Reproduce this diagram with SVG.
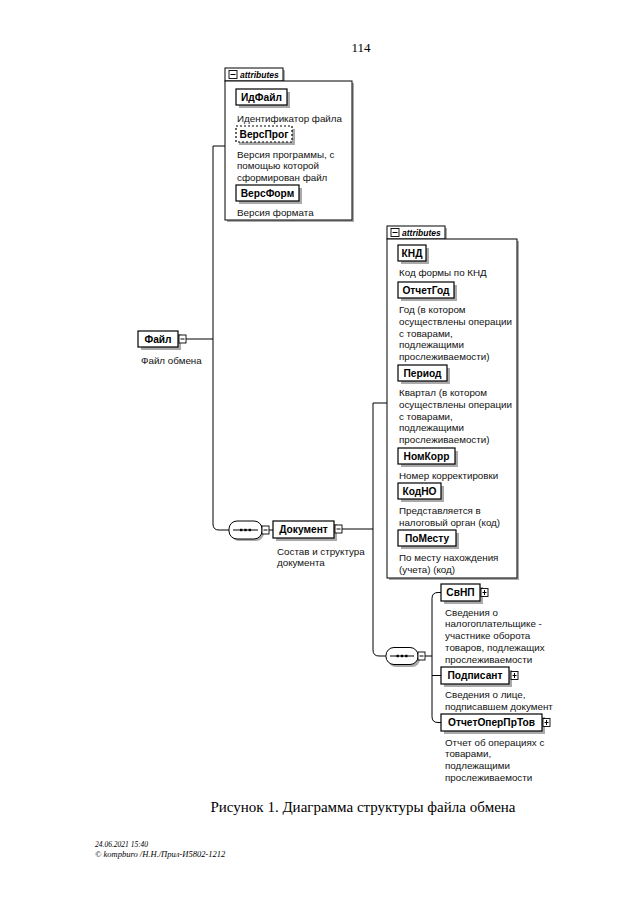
<svg xmlns="http://www.w3.org/2000/svg" width="640" height="905" viewBox="0 0 640 905">
<style>
.bg{fill:#fff}
.box{fill:#fff;stroke:#000;stroke-width:1.2}
.opt{fill:#fff;stroke:#000;stroke-width:1.2;stroke-dasharray:2,2}
.sh{fill:#aaaaaa}
.frame{fill:#fff;stroke:#000;stroke-width:1}
.ln{fill:none;stroke:#000;stroke-width:1}
.icon{fill:#fff;stroke:#000;stroke-width:0.9}
.name{font-family:"Liberation Sans",Arial,sans-serif;font-weight:bold;font-size:10.2px;text-anchor:middle;fill:#000}
.desc{font-family:"Liberation Sans",Arial,sans-serif;font-size:9.8px;fill:#111}
.tab{font-family:"Liberation Sans",Arial,sans-serif;font-weight:bold;font-style:italic;font-size:8.5px;fill:#000}
.serif{font-family:"Liberation Serif","Times New Roman",serif;fill:#000}
</style>
<rect class="bg" x="0" y="0" width="640" height="905"/>

<text class="serif" x="361" y="52" font-size="13" text-anchor="middle">114</text>

<!-- connectors -->
<g id="connectors">
  <path class="ln" d="M225,146 H213 V524 Q213,530 219,530 H229"/>
  <path class="ln" d="M186,339 H213"/>
  <path class="ln" d="M269,530 H273"/>
  <path class="ln" d="M342,529 H373"/>
  <path class="ln" d="M387,403 H373 V650 Q373,656 379,656 H386"/>
  <path class="ln" d="M425,656 H432"/>
  <path class="ln" d="M441,592.5 H438 Q432,592.5 432,598.5 V716.5 Q432,722.5 438,722.5 H441"/>
  <path class="ln" d="M432,675.5 H441"/>
</g>

<!-- top attributes -->
<g id="attrs1">
  <rect class="sh" x="227" y="83" width="127" height="139"/>
  <rect class="sh" x="227" y="70" width="58" height="13"/>
  <rect class="frame" x="225" y="68" width="58" height="13"/>
  <rect class="frame" x="225" y="81" width="127" height="139"/>
  <rect class="icon" x="229" y="70.5" width="8" height="8"/>
  <path class="ln" d="M230.5,74.5 H235.5"/>
  <text class="tab" x="240" y="78">attributes</text>
</g>
<g id="ИдФайл">
  <rect class="sh" x="239" y="92" width="51" height="16"/>
  <rect class="box" x="236" y="89" width="51" height="16"/>
  <text class="name" x="261.5" y="100.8">ИдФайл</text>
  <text class="desc" x="237" y="121.5">Идентификатор файла</text>
</g>
<g id="ВерсПрог">
  <rect class="sh" x="239" y="129" width="56" height="16"/>
  <rect class="opt" x="236" y="126" width="56" height="16"/>
  <text class="name" x="264" y="137.8">ВерсПрог</text>
  <text class="desc" x="237" y="157.5">Версия программы, с</text>
  <text class="desc" x="237" y="169">помощью которой</text>
  <text class="desc" x="237" y="180.5">сформирован файл</text>
</g>
<g id="ВерсФорм">
  <rect class="sh" x="239" y="188" width="63" height="16"/>
  <rect class="box" x="236" y="185" width="63" height="16"/>
  <text class="name" x="267.5" y="196.8">ВерсФорм</text>
  <text class="desc" x="237" y="215.5">Версия формата</text>
</g>

<!-- Файл -->
<g id="Файл">
  <rect class="sh" x="141" y="334" width="40" height="16"/>
  <rect class="box" x="138" y="331" width="40" height="16"/>
  <text class="name" x="158" y="342.8">Файл</text>
  <rect class="icon" x="179" y="335" width="7" height="8"/>
  <path class="ln" d="M180.5,339 H184.5"/>
  <text class="desc" x="141" y="364">Файл обмена</text>
</g>

<!-- sequence 1 -->
<g id="seq1">
  <rect class="sh" x="231" y="523" width="33" height="18" rx="8"/>
  <rect class="frame" x="229" y="521" width="33" height="18" rx="8"/>
  <path class="ln" d="M233,530 H258"/>
  <rect x="240" y="528.8" width="2.4" height="2.4" fill="#000"/>
  <rect x="244.3" y="528.8" width="2.4" height="2.4" fill="#000"/>
  <rect x="248.6" y="528.8" width="2.4" height="2.4" fill="#000"/>
  <rect class="icon" x="262" y="526" width="7" height="8"/>
  <path class="ln" d="M263.5,530 H267.5"/>
</g>

<!-- Документ -->
<g id="Документ">
  <rect class="sh" x="276" y="524" width="61" height="17"/>
  <rect class="box" x="273" y="521" width="61" height="17"/>
  <text class="name" x="303.5" y="533.3">Документ</text>
  <rect class="icon" x="335" y="525" width="7" height="8"/>
  <path class="ln" d="M336.5,529 H340.5"/>
  <text class="desc" x="277" y="554.5">Состав и структура</text>
  <text class="desc" x="277" y="566.3">документа</text>
</g>

<!-- second attributes -->
<g id="attrs2">
  <rect class="sh" x="389" y="241" width="130" height="339"/>
  <rect class="sh" x="389" y="228" width="58" height="13"/>
  <rect class="frame" x="387" y="226" width="58" height="13"/>
  <rect class="frame" x="387" y="239" width="130" height="339"/>
  <rect class="icon" x="391" y="228.5" width="8" height="8"/>
  <path class="ln" d="M392.5,232.5 H397.5"/>
  <text class="tab" x="402" y="236">attributes</text>
</g>
<g id="КНД">
  <rect class="sh" x="401" y="248" width="28" height="16"/>
  <rect class="box" x="398" y="245" width="28" height="16"/>
  <text class="name" x="412" y="256.8">КНД</text>
  <text class="desc" x="399" y="275.5">Код формы по КНД</text>
</g>
<g id="ОтчетГод">
  <rect class="sh" x="401" y="285" width="56" height="16"/>
  <rect class="box" x="398" y="282" width="56" height="16"/>
  <text class="name" x="426" y="293.8">ОтчетГод</text>
  <text class="desc" x="399" y="313">Год (в котором</text>
  <text class="desc" x="399" y="324.8">осуществлены операции</text>
  <text class="desc" x="399" y="336.6">с товарами,</text>
  <text class="desc" x="399" y="348.4">подлежащими</text>
  <text class="desc" x="399" y="360.2">прослеживаемости)</text>
</g>
<g id="Период">
  <rect class="sh" x="401" y="368" width="49" height="16"/>
  <rect class="box" x="398" y="365" width="49" height="16"/>
  <text class="name" x="422.5" y="376.8">Период</text>
  <text class="desc" x="399" y="396">Квартал (в котором</text>
  <text class="desc" x="399" y="407.8">осуществлены операции</text>
  <text class="desc" x="399" y="419.6">с товарами,</text>
  <text class="desc" x="399" y="431.4">подлежащими</text>
  <text class="desc" x="399" y="443.2">прослеживаемости)</text>
</g>
<g id="НомКорр">
  <rect class="sh" x="401" y="451" width="57" height="16"/>
  <rect class="box" x="398" y="448" width="57" height="16"/>
  <text class="name" x="426.5" y="459.8">НомКорр</text>
  <text class="desc" x="399" y="478.5">Номер корректировки</text>
</g>
<g id="КодНО">
  <rect class="sh" x="401" y="486" width="43" height="16"/>
  <rect class="box" x="398" y="483" width="43" height="16"/>
  <text class="name" x="419.5" y="494.8">КодНО</text>
  <text class="desc" x="399" y="514">Представляется в</text>
  <text class="desc" x="399" y="525.8">налоговый орган (код)</text>
</g>
<g id="ПоМесту">
  <rect class="sh" x="401" y="533" width="58" height="16"/>
  <rect class="box" x="398" y="530" width="58" height="16"/>
  <text class="name" x="427" y="541.8">ПоМесту</text>
  <text class="desc" x="399" y="561">По месту нахождения</text>
  <text class="desc" x="399" y="572.8">(учета) (код)</text>
</g>

<!-- sequence 2 -->
<g id="seq2">
  <rect class="sh" x="388" y="650" width="32" height="17" rx="8"/>
  <rect class="frame" x="386" y="647.5" width="32" height="17" rx="8"/>
  <path class="ln" d="M390,656 H414"/>
  <rect x="396.5" y="654.8" width="2.4" height="2.4" fill="#000"/>
  <rect x="400.8" y="654.8" width="2.4" height="2.4" fill="#000"/>
  <rect x="405.1" y="654.8" width="2.4" height="2.4" fill="#000"/>
  <rect class="icon" x="418" y="652" width="7" height="8"/>
  <path class="ln" d="M419.5,656 H423.5"/>
</g>

<!-- children -->
<g id="СвНП">
  <rect class="sh" x="444" y="587" width="39" height="17"/>
  <rect class="box" x="441" y="584" width="39" height="17"/>
  <text class="name" x="460.5" y="596.3">СвНП</text>
  <rect class="icon" x="481" y="588.5" width="7" height="8"/>
  <path class="ln" d="M482.5,592.5 H486.5 M484.5,590 V595"/>
  <text class="desc" x="445" y="615.5">Сведения о</text>
  <text class="desc" x="445" y="627.3">налогоплательщике -</text>
  <text class="desc" x="445" y="639.1">участнике оборота</text>
  <text class="desc" x="445" y="650.9">товаров, подлежащих</text>
  <text class="desc" x="445" y="662.7">прослеживаемости</text>
</g>
<g id="Подписант">
  <rect class="sh" x="444" y="670" width="68" height="17"/>
  <rect class="box" x="441" y="667" width="68" height="17"/>
  <text class="name" x="475" y="679.3">Подписант</text>
  <rect class="icon" x="511" y="671.5" width="7" height="8"/>
  <path class="ln" d="M512.5,675.5 H516.5 M514.5,673 V678"/>
  <text class="desc" x="445" y="698">Сведения о лице,</text>
  <text class="desc" x="445" y="709.8">подписавшем документ</text>
</g>
<g id="ОтчетОперПрТов">
  <rect class="sh" x="444" y="717" width="101" height="17"/>
  <rect class="box" x="441" y="714" width="101" height="17"/>
  <text class="name" x="491.5" y="726.3">ОтчетОперПрТов</text>
  <rect class="icon" x="543" y="718.5" width="7" height="8"/>
  <path class="ln" d="M544.5,722.5 H548.5 M546.5,720 V725"/>
  <text class="desc" x="445" y="745.5">Отчет об операциях с</text>
  <text class="desc" x="445" y="757.3">товарами,</text>
  <text class="desc" x="445" y="769.1">подлежащими</text>
  <text class="desc" x="445" y="780.9">прослеживаемости</text>
</g>

<text class="serif" x="363" y="812" font-size="15" text-anchor="middle">Рисунок 1. Диаграмма структуры файла обмена</text>

<text class="serif" x="95" y="847" font-size="7.5" font-style="italic">24.06.2021 15:40</text>
<text class="serif" x="95" y="857" font-size="8.5" font-style="italic">© kompburo /Н.Н./Прил-И5802-1212</text>
</svg>
